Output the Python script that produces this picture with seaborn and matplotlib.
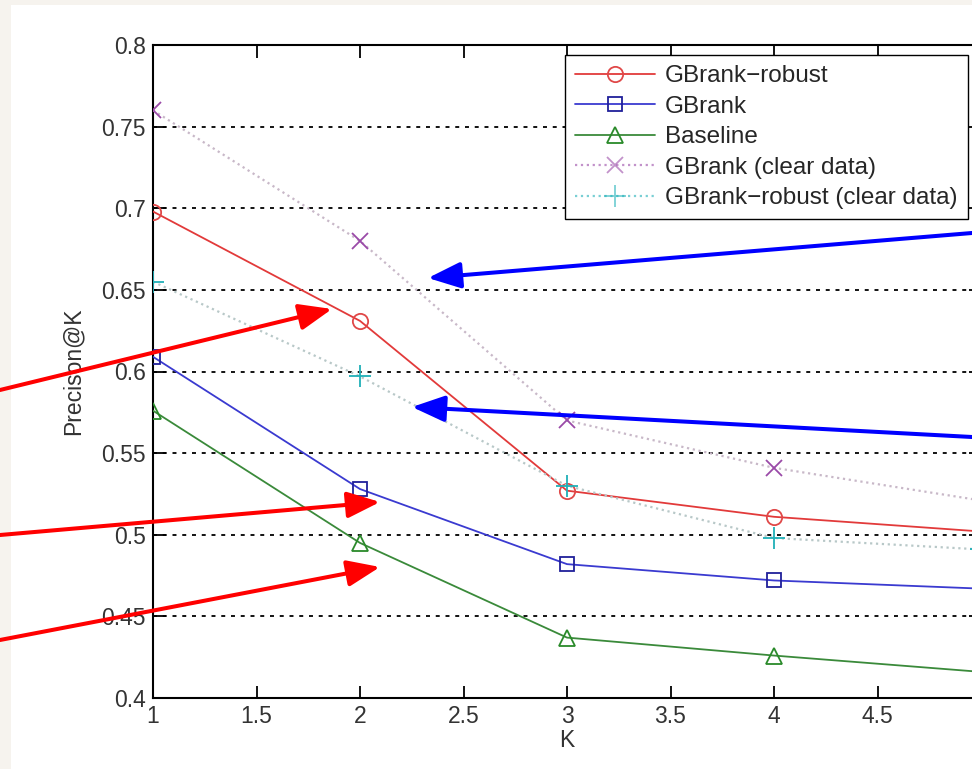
import numpy as np
import pandas as pd
import matplotlib
matplotlib.use('Agg')
import matplotlib.pyplot as plt
import seaborn as sns
from matplotlib.patches import Rectangle, FancyArrowPatch

# values
K = [1, 2, 3, 4, 5]
gbrank_robust = [0.698, 0.631, 0.527, 0.511, 0.502]
gbrank = [0.609, 0.528, 0.482, 0.472, 0.467]
baseline = [0.576, 0.495, 0.437, 0.426, 0.416]
gbrank_clear = [0.760, 0.680, 0.570, 0.541, 0.521]
gbrank_robust_clear = [0.655, 0.597, 0.530, 0.498, 0.491]

labels = ['GBrank\u2212robust', 'GBrank', 'Baseline',
          'GBrank (clear data)', 'GBrank\u2212robust (clear data)']
x_ticks = [1, 1.5, 2, 2.5, 3, 3.5, 4, 4.5, 5]
# the "5" label falls outside the cropped screenshot
x_tick_labels = ['1', '1.5', '2', '2.5', '3', '3.5', '4', '4.5', '']
y_ticks = [0.4, 0.45, 0.5, 0.55, 0.6, 0.65, 0.7, 0.75, 0.8]
y_tick_labels = ['0.4', '0.45', '0.5', '0.55', '0.6', '0.65', '0.7', '0.75', '0.8']

sns.set_style('ticks')
plt.rcParams['font.family'] = ['Liberation Sans', 'DejaVu Sans']

W, H = 972, 769
fig = plt.figure(figsize=(W / 100, H / 100), dpi=100, facecolor='#f6f3ee')
# white panel of the screenshot
fig.patches.append(Rectangle((11 / W, 0), 1, 1 - 5 / H, transform=fig.transFigure,
                             facecolor='white', edgecolor='none', zorder=-10))

# axes run a bit past the right edge, like the cropped screenshot
ax = fig.add_axes([153 / W, 1 - 698 / H, (981 - 153) / W, (698 - 45) / H])
ax.set_facecolor('white')

styles = [
    dict(y=gbrank_robust, color='#e23a3a', mec='#e04848', marker='o', ls='-', lw=1.3, ms=11),
    dict(y=gbrank, color='#3a3ad0', mec='#20209a', marker='s', ls='-', lw=1.3, ms=10),
    dict(y=baseline, color='#3a8a3a', mec='#2a8a2a', marker='^', ls='-', lw=1.3, ms=11),
    dict(y=gbrank_clear, color='#c8b8c8', mec='#9a4aa8', marker='x', ls=':', lw=1.6, ms=11),
    dict(y=gbrank_robust_clear, color='#b8c8c8', mec='#20b0b8', marker='+', ls=':', lw=1.6, ms=16),
]

for lab, st in zip(labels, styles):
    sns.lineplot(x=K, y=st['y'], ax=ax, color=st['color'], linestyle=st['ls'],
                 linewidth=st['lw'], marker=st['marker'], markersize=st['ms'],
                 markerfacecolor='none', markeredgecolor=st['mec'],
                 markeredgewidth=1.3, label=lab, zorder=3)

leg = ax.legend(loc='upper right', bbox_to_anchor=(0.984, 0.985), borderaxespad=0,
                fontsize=17.5, frameon=True, fancybox=False, framealpha=1,
                edgecolor='black', handlelength=3.3, labelspacing=0.35,
                borderpad=0.42, handletextpad=0.4)
leg.get_frame().set_linewidth(1.0)
for h, st in zip(leg.get_lines(), styles):
    if st['ls'] == ':':
        h.set_color(st['mec'])
        h.set_alpha(0.6)
leg.set_zorder(5)

# horizontal grid at inner ticks
for yv in y_ticks[1:-1]:
    ax.axhline(yv, color='black', linestyle=(0, (2.2, 3.2)), linewidth=1.3, zorder=1)

ax.set_xlim(1, 5)
ax.set_ylim(0.4, 0.8)
ax.set_xticks(x_ticks, x_tick_labels)
ax.set_yticks(y_ticks, y_tick_labels)
ax.tick_params(direction='in', length=9, width=1.3, labelsize=16.5, top=True,
               right=True, colors='black', labelcolor='#333333', pad=5)
for s in ax.spines.values():
    s.set_linewidth(1.5)
    s.set_color('black')
    s.set_visible(True)

ax.set_xlabel('K', fontsize=16.5, color='#333333', labelpad=1)
ax.set_ylabel('Precison@K', fontsize=16.5, color='#333333', labelpad=12)

# annotation arrows drawn over the screenshot (figure pixel positions)
arrows = [
    ((0, 390), (332, 309), 'red'),
    ((0, 535), (380, 502), 'red'),
    ((0, 640), (380, 567), 'red'),
    ((972, 233), (428, 278), 'blue'),
    ((972, 437), (412, 407), 'blue'),
]
for (x0, y0), (x1, y1), c in arrows:
    fig.add_artist(FancyArrowPatch(
        (x0 / W, 1 - y0 / H), (x1 / W, 1 - y1 / H), transform=fig.transFigure,
        arrowstyle='-|>,head_length=1.0,head_width=0.4', mutation_scale=20,
        color=c, linewidth=2.9, shrinkA=0, shrinkB=0, zorder=10))

fig.savefig('out.png', dpi=100, facecolor=fig.get_facecolor())
